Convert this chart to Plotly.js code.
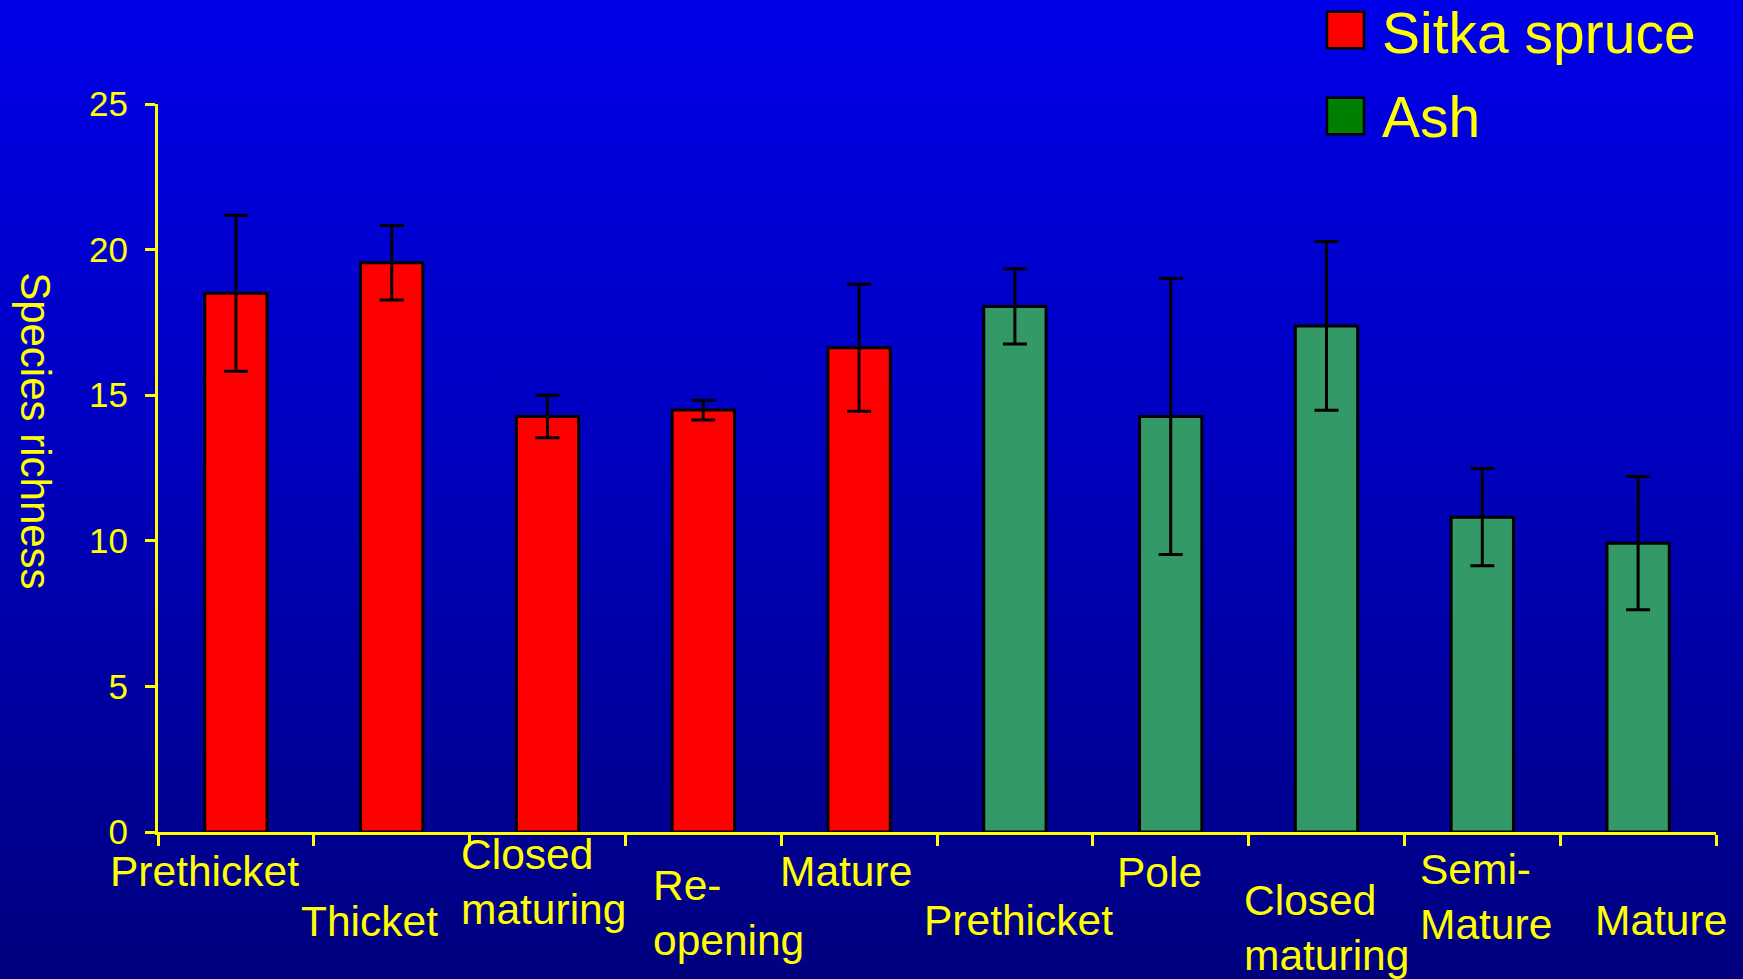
<!DOCTYPE html>
<html>
<head>
<meta charset="utf-8">
<script src="https://cdn.plot.ly/plotly-3.0.1.min.js"></script>
<style>
  html, body { margin: 0; padding: 0; width: 1743px; height: 979px; overflow: hidden; }
  body { background: linear-gradient(to bottom, #0000E8 0%, #0000C0 45%, #00007E 100%); }
  #chart { width: 1743px; height: 979px; }
</style>
</head>
<body>
<div id="chart"></div>
<script>
// ---- data ----
const seriesNames = ["Sitka spruce", "Ash"];
const spruceStages = ["Prethicket", "Thicket", "Closed<br>maturing", "Re-<br>opening", "Mature"];
const spruceMean   = [18.5, 19.55, 14.27, 14.49, 16.63];
const spruceErr    = [2.68, 1.28, 0.73, 0.34, 2.18];
const ashStages    = ["Prethicket", "Pole", "Closed<br>maturing", "Semi-<br>Mature", "Mature"];
const ashMean      = [18.05, 14.27, 17.38, 10.81, 9.92];
const ashErr       = [1.29, 4.74, 2.90, 1.67, 2.29];
const yTickVals    = [0, 5, 10, 15, 20, 25];
const yTitle       = "Species richness";

// ---- layout helpers (positions / styles) ----
const YELLOW = "#FFFF00";
const FONT = "Liberation Sans, Arial, Helvetica, sans-serif";
const PLOT_L = 158, PLOT_R = 1716, PLOT_T = 104, PLOT_B = 831.7;
const px2paperX = p => (p - PLOT_L) / (PLOT_R - PLOT_L);
const px2paperY = p => (PLOT_B - p) / (PLOT_B - PLOT_T);

const spruceX = spruceStages.map((_, i) => i);
const ashX = ashStages.map((_, i) => i + spruceStages.length);
const allLabels = spruceStages.concat(ashStages);
const nCat = allLabels.length;

// label placement (pixel offsets), reference labels are staggered
const labelXShift = [-31, -22, -4, 25, -13, 4, -11, 0, 4, 23];
const labelYDrop  = [39, 89, 50, 81, 39, 88, 40, 96, 65, 88];

const errStyle = { type: "data", visible: true, color: "#000000", thickness: 3, width: 12 };

const traces = [
  {
    type: "bar", name: seriesNames[0], x: spruceX, y: spruceMean, width: 0.4,
    marker: { color: "#FF0000", line: { color: "#000000", width: 3 } },
    error_y: Object.assign({ array: spruceErr }, errStyle),
    showlegend: false, hoverinfo: "y"
  },
  {
    type: "bar", name: seriesNames[1], x: ashX, y: ashMean, width: 0.4,
    marker: { color: "#339966", line: { color: "#000000", width: 3 } },
    error_y: Object.assign({ array: ashErr }, errStyle),
    showlegend: false, hoverinfo: "y"
  }
];

const boundaries = [];
for (let i = 0; i <= nCat; i++) boundaries.push(i - 0.5);

const annotations = allLabels.map((t, i) => ({
  text: t, xref: "x", yref: "paper", x: i, y: 0,
  xanchor: "center", yanchor: "middle", align: "left",
  xshift: labelXShift[i], yshift: -labelYDrop[i],
  showarrow: false, font: { family: FONT, size: 42.5, color: YELLOW }
}));

// y axis title, reads top to bottom
annotations.push({
  text: yTitle, xref: "paper", yref: "paper",
  x: px2paperX(36), y: px2paperY(430), xanchor: "center", yanchor: "middle",
  textangle: 90, showarrow: false, font: { family: FONT, size: 42, color: YELLOW }
});

// legend text
const legendColors = ["#FF0000", "#008000"];
const legendTop = [11.7, 97.7];
const legendTextY = [33, 117];
seriesNames.forEach((n, i) => {
  annotations.push({
    text: n, xref: "paper", yref: "paper",
    x: px2paperX(1380), y: px2paperY(legendTextY[i]),
    xanchor: "left", yanchor: "middle", showarrow: false,
    font: { family: FONT, size: 57, color: YELLOW }
  });
});

const shapes = seriesNames.map((n, i) => ({
  type: "rect", xref: "paper", yref: "paper",
  x0: px2paperX(1327), x1: px2paperX(1364),
  y0: px2paperY(legendTop[i]), y1: px2paperY(legendTop[i] + 36.5),
  fillcolor: legendColors[i], line: { color: "#000000", width: 2.5 }
}));

const layout = {
  width: 1743, height: 979,
  margin: { l: PLOT_L, r: 1743 - PLOT_R, t: PLOT_T, b: 979 - PLOT_B, pad: 0 },
  paper_bgcolor: "rgba(0,0,0,0)",
  plot_bgcolor: "rgba(0,0,0,0)",
  font: { family: FONT, color: YELLOW },
  showlegend: false,
  xaxis: {
    type: "linear", range: [-0.5, nCat - 0.5],
    tickmode: "array", tickvals: boundaries, ticktext: boundaries.map(() => ""),
    showticklabels: false, ticks: "outside", ticklen: 11, tickwidth: 3, tickcolor: YELLOW,
    showline: true, linecolor: YELLOW, linewidth: 3,
    showgrid: false, zeroline: false, fixedrange: true
  },
  yaxis: {
    range: [0, 25], tickmode: "array", tickvals: yTickVals,
    ticks: "outside", ticklen: 10, tickwidth: 3, tickcolor: YELLOW,
    showline: true, linecolor: YELLOW, linewidth: 3,
    showgrid: false, zeroline: false,
    tickfont: { family: FONT, size: 35, color: YELLOW },
    ticklabelstandoff: 10, fixedrange: true
  },
  annotations: annotations,
  shapes: shapes
};

Plotly.newPlot("chart", traces, layout, { displayModeBar: false, staticPlot: true });
</script>
</body>
</html>
